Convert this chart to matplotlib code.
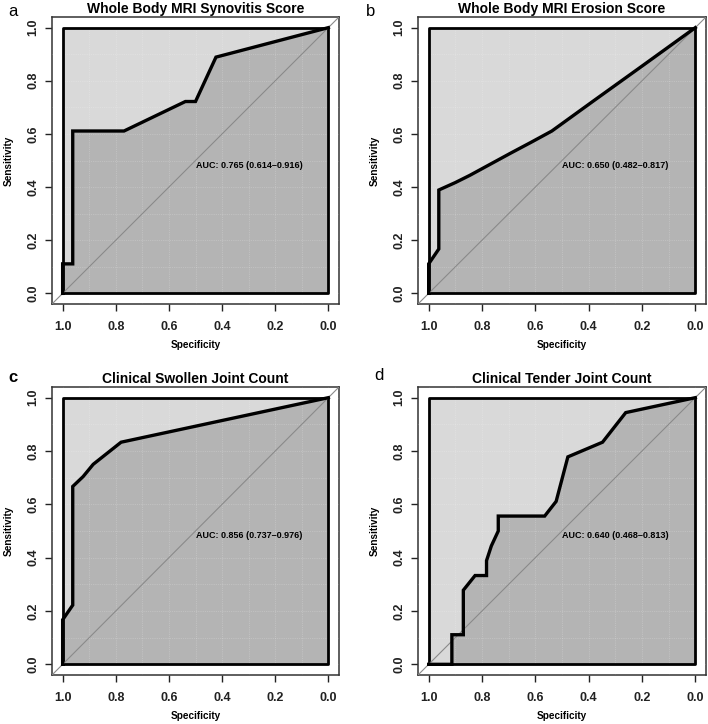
import numpy as np
import matplotlib as mpl

mpl.use('Agg')

from matplotlib import pyplot as plt

plt.rcParams['font.family'] = ['Liberation Sans', 'DejaVu Sans']

# ROC curves (specificity, sensitivity)
spec_a = [1.0, 1.0, 0.962, 0.962, 0.769, 0.538, 0.500, 0.423, 0.0]
sens_a = [0.0, 0.111, 0.111, 0.611, 0.611, 0.722, 0.722, 0.889, 1.0]

spec_b = [1.0, 1.0, 0.962, 0.962, 0.900, 0.846, 0.769, 0.692, 0.615, 0.538, 0.385, 0.192, 0.0]
sens_b = [0.0, 0.111, 0.167, 0.389, 0.417, 0.444, 0.486, 0.528, 0.569, 0.611, 0.722, 0.861, 1.0]

spec_c = [1.0, 1.0, 0.962, 0.962, 0.923, 0.885, 0.780, 0.0]
sens_c = [0.0, 0.167, 0.222, 0.667, 0.704, 0.750, 0.833, 1.0]

spec_d = [1.0, 0.913, 0.913, 0.870, 0.870, 0.826, 0.783, 0.783, 0.765, 0.739, 0.739,
          0.565, 0.522, 0.478, 0.348, 0.261, 0.0]
sens_d = [0.0, 0.0, 0.111, 0.111, 0.278, 0.333, 0.333, 0.389, 0.444, 0.500, 0.556,
          0.556, 0.611, 0.778, 0.833, 0.944, 1.0]

titles = ["Whole Body MRI Synovitis Score", "Whole Body MRI Erosion Score",
          "Clinical Swollen Joint Count", "Clinical Tender Joint Count"]
auc_labels = ["AUC: 0.765 (0.614\u20130.916)", "AUC: 0.650 (0.482\u20130.817)",
              "AUC: 0.856 (0.737\u20130.976)", "AUC: 0.640 (0.468\u20130.813)"]
letters = ["a", "b", "c", "d"]
ticks = [0.0, 0.2, 0.4, 0.6, 0.8, 1.0]
tick_labels = ["0.0", "0.2", "0.4", "0.6", "0.8", "1.0"]

W, H = 708, 724
# frame boxes in pixels: left, top, right, bottom
boxes = [(52, 17, 339, 304), (418, 17, 706, 304),
         (52, 387, 339, 675), (418, 387, 706, 675)]
letter_pos = [(8, 11), (366, 11), (8, 377), (374, 376)]

light = '#d9d9d9'
dark = '#b4b4b4'


def draw_panel(ax, spec, sens, title, auc):
    ax.set_xlim(1.04, -0.04)
    ax.set_ylim(-0.04, 1.04)

    # max auc box
    ax.fill([1, 1, 0, 0], [0, 1, 1, 0], color=light, zorder=1, lw=0)
    # auc polygon
    px = list(spec) + [0.0, 1.0]
    py = list(sens) + [0.0, 0.0]
    ax.fill(px, py, color=dark, zorder=2, lw=0)

    # faint grid
    for g in np.arange(0, 1.01, 0.1):
        ax.axhline(g, color='white', alpha=0.35, lw=0.5, ls=':', zorder=3)
        ax.axvline(g, color='white', alpha=0.35, lw=0.5, ls=':', zorder=3)

    ax.plot([1, 1, 0, 0, 1], [0, 1, 1, 0, 0], color='black', lw=2.0, zorder=4)
    ax.plot([1.04, -0.04], [-0.04, 1.04], color='#8a8a8a', lw=0.8, zorder=5)
    ax.plot(spec, sens, color='black', lw=2.4, zorder=6, solid_joinstyle='miter')

    ax.text(0.5, 0.5, auc, ha='left', va='top', fontsize=6.5, fontweight='bold', zorder=7)

    ax.set_xticks(ticks)
    ax.set_xticklabels(tick_labels, fontweight='bold')
    ax.set_yticks(ticks)
    ax.set_yticklabels(tick_labels, fontweight='bold', rotation=90, va='center')
    ax.tick_params(axis='both', length=5, width=1, labelsize=9, colors='#222222')
    ax.tick_params(axis='x', pad=7)
    ax.tick_params(axis='y', pad=4)
    for s in ax.spines.values():
        s.set_color('#333333')
        s.set_linewidth(1.1)

    ax.set_xlabel("Specificity", fontsize=7.2, fontweight='bold', labelpad=5)
    ax.set_ylabel("Sensitivity", fontsize=7.2, fontweight='bold', labelpad=10)
    ax.set_title(title, fontsize=10, fontweight='bold', pad=3)


fig = plt.figure(figsize=(W / 100, H / 100), dpi=100)

curves = [(spec_a, sens_a), (spec_b, sens_b), (spec_c, sens_c), (spec_d, sens_d)]
for i in range(4):
    l, t, r, b = boxes[i]
    ax = fig.add_axes([l / W, 1 - b / H, (r - l) / W, (b - t) / H])
    draw_panel(ax, curves[i][0], curves[i][1], titles[i], auc_labels[i])
    lx, ly = letter_pos[i]
    fig.text(lx / W, 1 - ly / H, letters[i], fontsize=12,
             fontweight='bold' if letters[i] == 'c' else 'normal', va='center')

fig.savefig('out.png', dpi=100)
